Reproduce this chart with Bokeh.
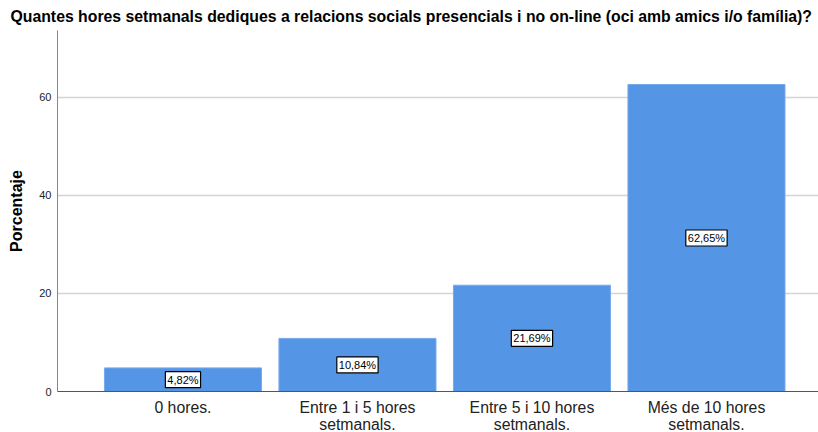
from bokeh.plotting import figure
from bokeh.models import ColumnDataSource, FixedTicker, Range1d
from bokeh.core.properties import value
from bokeh.embed import file_html
from bokeh.resources import INLINE

categories = ["0 hores.", "Entre 1 i 5 hores\nsetmanals.", "Entre 5 i 10 hores\nsetmanals.", "Més de 10 hores\nsetmanals."]
percent = [4.82, 10.84, 21.69, 62.65]
y_ticks = [0, 20, 40, 60]

xs = [i + 1 for i in range(len(categories))]
labels = [f"{v:.2f}%".replace(".", ",") for v in percent]
src = ColumnDataSource(dict(x=xs, top=percent, mid=[v / 2 for v in percent], lab=labels))

FONT = "Liberation Sans"

p = figure(frame_width=761, frame_height=361, output_backend="svg", toolbar_location=None,
           x_range=Range1d(0.281, 4.642), y_range=Range1d(0, 73.67),
           min_border_left=57, min_border_right=0, min_border_top=30, min_border_bottom=30)
p.outline_line_color = None

p.title.text = "Quantes hores setmanals dediques a relacions socials presencials i no on-line (oci amb amics i/o família)?"
p.title.text_font = FONT
p.title.text_font_size = "15.8px"
p.title.text_font_style = "bold"
p.title.text_color = "black"
p.title.align = "left"
p.title.offset = -47
p.title.standoff = 11

p.vbar(x="x", top="top", width=0.9, source=src, fill_color="#5595e5", line_color="#77aaeb", line_width=1)

p.text(x="x", y="mid", text="lab", source=src, text_align="center", text_baseline="middle",
       text_font=value(FONT), text_font_size="11px", text_color="black",
       background_fill_color="white", border_line_color="black", border_line_width=1.2, padding=2)

p.xaxis.ticker = FixedTicker(ticks=xs)
p.xaxis.major_label_overrides = {x: c for x, c in zip(xs, categories)}
p.xaxis.major_label_text_font = FONT
p.xaxis.major_label_text_font_size = "15.8px"
p.xaxis.major_label_text_line_height = 1.0
p.xaxis.major_label_text_color = "#222222"
p.xaxis.major_tick_line_color = None
p.xaxis.minor_tick_line_color = None
p.xaxis.major_tick_out = 0
p.xaxis.major_tick_in = 0
p.xaxis.axis_line_color = "#555555"
p.xaxis.major_label_standoff = 7

p.yaxis.ticker = FixedTicker(ticks=y_ticks)
p.yaxis.axis_label = "Porcentaje"
p.yaxis.axis_label_text_font = FONT
p.yaxis.axis_label_text_font_size = "16px"
p.yaxis.axis_label_text_font_style = "bold"
p.yaxis.axis_label_text_color = "black"
p.yaxis.axis_label_standoff = 11
p.yaxis.major_label_text_font = FONT
p.yaxis.major_label_text_font_size = "11px"
p.yaxis.major_label_text_color = "#222222"
p.yaxis.major_tick_line_color = None
p.yaxis.minor_tick_line_color = None
p.yaxis.major_tick_out = 0
p.yaxis.major_tick_in = 0
p.yaxis.axis_line_color = "#888888"
p.yaxis.major_label_standoff = 6

p.xgrid.grid_line_color = None
p.ygrid.grid_line_color = "#d4d4d4"
p.ygrid.grid_line_width = 1.5
p.ygrid.ticker = FixedTicker(ticks=y_ticks[1:])

open("out.html", "w").write(file_html(p, INLINE))
